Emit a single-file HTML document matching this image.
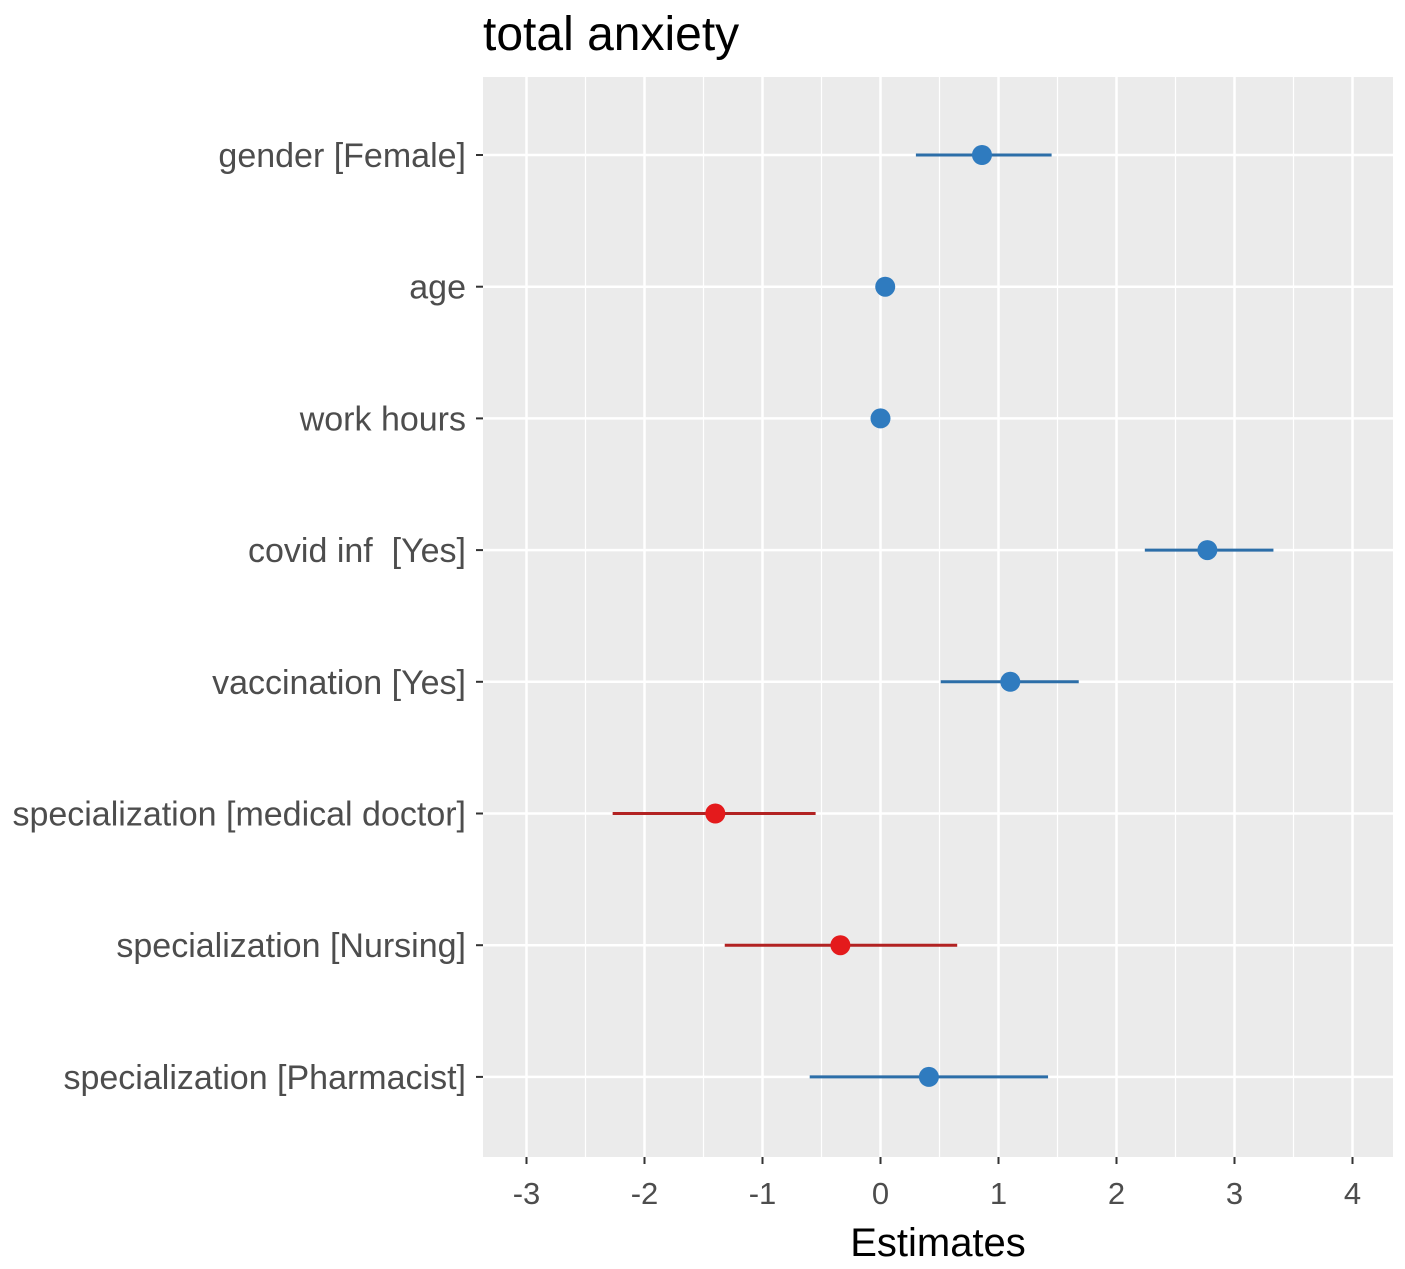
<!DOCTYPE html>
<html><head><meta charset="utf-8"><style>
body{margin:0;background:#fff;}
svg{display:block;font-family:"Liberation Sans",sans-serif;}
text{white-space:pre;}
</style></head><body>
<svg id="chart" width="1405" height="1269">
<text x="483" y="50" font-size="48" fill="#000">total anxiety</text>
<rect x="483" y="77" width="910" height="1080" fill="#ebebeb"/>
<g id="grid"></g><g id="marks"></g><g id="axes"></g>
<text x="938" y="1256" font-size="40" text-anchor="middle" fill="#000">Estimates</text>
</svg>
<script>
const terms=["gender [Female]","age","work hours","covid inf  [Yes]","vaccination [Yes]","specialization [medical doctor]","specialization [Nursing]","specialization [Pharmacist]"];
const estimates=[0.86,0.04,0.00,2.77,1.10,-1.40,-0.34,0.41];
const ciLow=[0.30,0.02,-0.02,2.24,0.51,-2.27,-1.32,-0.60];
const ciHigh=[1.45,0.06,0.02,3.33,1.68,-0.55,0.65,1.42];
const xTicks=[-3,-2,-1,0,1,2,3,4];
const NS="http://www.w3.org/2000/svg";
const x=v=>880.5+v*118;
const y=i=>155+i*131.7;
function mk(t,a,p){const e=document.createElementNS(NS,t);for(const k in a)e.setAttribute(k,a[k]);p.appendChild(e);return e;}
const grid=document.getElementById('grid'),marks=document.getElementById('marks'),axes=document.getElementById('axes');
for(let v=-3.5;v<=4.5;v+=1){const gx=x(v);if(gx>483&&gx<1393){const l=mk('line',{x1:gx,x2:gx,y1:77,y2:1157,stroke:'#fff','stroke-width':1.2},grid);

}}
xTicks.forEach(v=>{const l=mk('line',{x1:x(v),x2:x(v),y1:77,y2:1157,stroke:'#fff','stroke-width':2.5},grid);


const t=mk('line',{x1:x(v),x2:x(v),y1:1157,y2:1164,stroke:'#333','stroke-width':2},axes);


const tx=mk('text',{x:x(v),y:1204,'font-size':31,'text-anchor':'middle',fill:'#4d4d4d'},axes);tx.textContent=v;

});
terms.forEach((n,i)=>{const yy=y(i);
const g=mk('line',{x1:483,x2:1393,y1:yy,y2:yy,stroke:'#fff','stroke-width':2.5},grid);


const t=mk('line',{x1:476,x2:483,y1:yy,y2:yy,stroke:'#333','stroke-width':2},axes);


const lb=mk('text',{x:466,y:yy+12,'font-size':34,'text-anchor':'end',fill:'#4d4d4d'},axes);lb.textContent=n;


const pos=estimates[i]>=0;const lc=pos?'#2c6ea8':'#b22222',pc=pos?'#2f7bbf':'#e41a1c';
const ci=mk('line',{x1:x(ciLow[i]),x2:x(ciHigh[i]),y1:yy,y2:yy,stroke:lc,'stroke-width':3},marks);


const p=mk('circle',{cx:x(estimates[i]),cy:yy,r:10,fill:pc},marks);

});
</script>
</body></html>
